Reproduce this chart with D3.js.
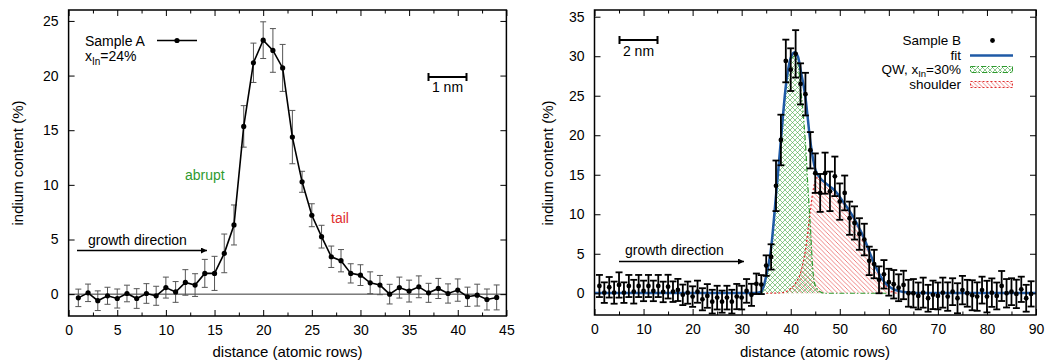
<!DOCTYPE html>
<html><head><meta charset="utf-8">
<script src="https://cdn.jsdelivr.net/npm/d3@7"></script>
<style>
body{margin:0;background:#fff}
svg{display:block}
text{font-family:"Liberation Sans",Arial,Helvetica,sans-serif;font-size:14px;fill:#000}
</style>
</head><body>
<svg id="c" width="1045" height="360"></svg>
<script>
// ---------- Data: Sample A ----------
const rowsA = d3.range(1, 45);
const valuesA = [-0.34,0.12,-0.6,-0.15,-0.4,0.06,-0.4,0.06,-0.15,0.6,0.2,1.07,0.83,1.9,1.9,3.73,6.33,15.35,21.17,23.24,22.3,20.7,14.37,10.28,7.22,5.26,3.42,3.06,1.9,1.74,1.04,0.83,0.0,0.6,0.28,0.67,0.12,0.52,0.06,0.37,-0.24,-0.09,-0.49,-0.3];
const errorsA = [0.8,0.8,0.9,0.78,0.87,0.76,0.9,0.9,0.87,0.96,0.95,1.17,1.04,1.28,1.56,1.77,1.83,1.9,1.8,1.68,2.0,2.15,2.44,0.96,1.05,1.04,0.98,1.02,0.88,0.95,1.0,0.88,0.9,0.96,1.0,1.0,0.87,0.92,0.88,1.02,0.88,1.0,0.96,1.14];

// ---------- Data: Sample B ----------
const rowsB = d3.range(1, 90);
const valuesB = [0.92,0.08,0.76,0.08,1.05,0.08,0.92,0.2,0.92,0.3,0.92,0.3,0.92,0.17,0.84,0.2,0.42,-0.2,0.08,-0.42,0.2,-0.76,-0.34,-1.06,-0.55,-1.06,-0.55,-1.06,-0.42,-0.55,0.3,-0.2,1.2,
 1.1,3.5,4.6,13.6,19.4,29.4,28.3,30.3,26.5,25.2,18.1,15.2,12.7,15.2,12.9,14.8,11.6,12.7,9.5,8.9,7.5,6.8,4.1,3.7,1.7,2.4,1.4,1.14,0.7,1.05,
 0,0,-0.34,0.08,-0.63,-0.2,-0.34,0.08,-0.42,0.2,-0.63,0.4,0,-0.25,-0.42,0.4,-0.42,0.08,-0.34,0.92,0,0.2,-0.08,0.5,-0.63,-0.08];
const errorsB = [1.4,1.3,1.3,1.4,1.6,1.3,1.4,1.5,1.4,1.3,1.4,1.3,1.4,1.3,1.5,1.3,1.4,1.3,1.4,1.3,1.4,1.4,1.5,1.5,1.5,1.4,1.5,1.5,1.6,1.5,1.5,1.4,1.3,
 1.2,1.3,1.6,3.2,3.2,2.7,2.7,3.0,2.6,2.7,2.3,2.5,2.4,2.6,2.5,2.5,2.3,2.2,2.1,2.1,2.0,2.0,1.8,1.8,1.7,1.8,1.7,1.8,1.7,1.8,
 1.7,1.8,1.7,1.9,1.7,1.8,1.7,1.9,1.8,1.7,1.9,1.8,1.7,1.9,1.8,1.7,2.0,1.8,1.7,1.9,1.8,1.7,1.8,1.6,1.7,1.6];

// fit curve
const fitX = [0,10,20,30,33,34,35,36,37,38,39,40,40.8,41.5,42,43,44,45,46,47,48,49,50,51,52,53,54,55,56,57,58,59,60,61,62,63,65,70,80,90];
const fitY = [0.05,0.05,0.05,0.05,0.05,0.2,2.2,5.7,12.4,19.4,26.2,29.8,30.5,29.9,28.3,24.8,19.2,15.7,14.6,14.0,13.5,13.0,12.2,11.3,10.4,9.4,8.2,6.9,5.3,3.8,2.5,1.5,0.9,0.5,0.3,0.15,0.05,0.05,0.05,0.05];
// QW component
const qwX = [33,34,35,36,37,38,39,40,40.8,41.5,42,42.5,43,43.5,44,44.5,45,46,47,50,55,60];
const qwY = [0,0.1,2.0,5.6,12.2,19.2,26.0,29.4,30.0,29.0,26.0,23.0,19.0,13.5,8.5,3.0,1.0,0.2,0,0,0,0];
// shoulder component
const shX = [35,38,39,40,41,42,43,44,44.5,45,45.5,46,47,48,49,50,51,52,53,54,55,56,57,58,59,60,61,62];
const shY = [0,0.05,0.2,0.6,1.3,2.6,5.5,10.5,12.8,14.2,14.7,14.6,14.0,13.5,13.0,12.2,11.3,10.4,9.4,8.2,6.9,5.3,3.8,2.4,1.3,0.5,0.1,0];

const ticksAx = [0,5,10,15,20,25,30,35,40,45];
const minorAx = [2.5,7.5,12.5,17.5,22.5,27.5,32.5,37.5,42.5];
const ticksAy = [0,5,10,15,20,25];
const ticksBx = [0,10,20,30,40,50,60,70,80,90];
const minorBx = [5,15,25,35,45,55,65,75,85];
const ticksBy = [0,5,10,15,20,25,30,35];

const svg = d3.select('#c');
const defs = svg.append('defs');
const GREEN = '#2f9a2f', RED = '#e03030', BLUE = '#1f5aa6';

// patterns
const pg = defs.append('pattern').attr('id','pgreen').attr('patternUnits','userSpaceOnUse').attr('width',5).attr('height',5);
pg.append('path').attr('d','M0,0L5,5M5,0L0,5').attr('stroke','#45a845').attr('stroke-width',0.6).attr('fill','none');
const pr = defs.append('pattern').attr('id','pred').attr('patternUnits','userSpaceOnUse').attr('width',4.5).attr('height',4.5);
pr.append('path').attr('d','M-1,-1L5.5,5.5M-1,3.5L1,5.5M3.5,-1L5.5,1').attr('stroke','#e85050').attr('stroke-width',0.7).attr('fill','none');
defs.append('marker').attr('id','arr').attr('viewBox','0 0 10 10').attr('refX',10).attr('refY',5)
  .attr('markerWidth',9).attr('markerHeight',6).attr('markerUnits','userSpaceOnUse').attr('orient','auto')
  .append('path').attr('d','M0,0L10,5L0,10z').attr('fill','#000');

function frame(g, x, y, xt, xm, yt) {
  const [x0,x1] = x.range(), [y0,y1] = y.range();
  const ax = (gen, tv, size, tf, tr) => {
    const a = gen.tickValues(tv).tickSize(size).tickPadding(tf ? 9 : 0);
    if (!tf) a.tickFormat('');
    const gg = g.append('g').attr('transform', tr).call(a);
    gg.select('.domain').remove();
    gg.selectAll('line').attr('stroke','#000').attr('stroke-width',1);
    gg.selectAll('text').style('font-size','14px').style('font-family','"Liberation Sans",Arial,sans-serif');
    return gg;
  };
  ax(d3.axisBottom(x), xt, -6, true, `translate(0,${y0})`);
  ax(d3.axisBottom(x), xm, -3.5, false, `translate(0,${y0})`);
  ax(d3.axisTop(x), xt, -6, false, `translate(0,${y1})`);
  ax(d3.axisTop(x), xm, -3.5, false, `translate(0,${y1})`);
  const yl = ax(d3.axisLeft(y), yt, -6, true, `translate(${x0},0)`);
  yl.selectAll('text').attr('x', -10);
  ax(d3.axisRight(y), yt, -6, false, `translate(${x1},0)`);
  g.append('rect').attr('x',x0).attr('y',y1).attr('width',x1-x0).attr('height',y0-y1)
    .attr('fill','none').attr('stroke','#000').attr('stroke-width',1.5);
}

// ================= Left chart =================
const xA = d3.scaleLinear().domain([0,45]).range([68.6,506.4]);
const yA = d3.scaleLinear().domain([-2,26]).range([316,10]);
const gA = svg.append('g');
gA.append('line').attr('x1',xA(0)).attr('x2',xA(45)).attr('y1',yA(0)).attr('y2',yA(0)).attr('stroke','#000').attr('stroke-width',0.8);
const dA = rowsA.map((r,i)=>({x:r,y:valuesA[i],e:errorsA[i]}));
const ebA = gA.append('g').attr('stroke','#555').attr('stroke-width',1);
dA.forEach(d=>{
  const px = xA(d.x), t = yA(d.y+d.e), b = yA(d.y-d.e);
  ebA.append('line').attr('x1',px).attr('x2',px).attr('y1',t).attr('y2',b);
  ebA.append('line').attr('x1',px-3).attr('x2',px+3).attr('y1',t).attr('y2',t);
  ebA.append('line').attr('x1',px-3).attr('x2',px+3).attr('y1',b).attr('y2',b);
});
gA.append('path').datum(dA).attr('d',d3.line().x(d=>xA(d.x)).y(d=>yA(d.y)))
  .attr('fill','none').attr('stroke','#000').attr('stroke-width',1.6);
gA.selectAll('circle.p').data(dA).join('circle').attr('cx',d=>xA(d.x)).attr('cy',d=>yA(d.y)).attr('r',2.6).attr('fill','#000');
frame(gA, xA, yA, ticksAx, minorAx, ticksAy);

// legend A
gA.append('text').attr('x',85).attr('y',46).text('Sample A');
gA.append('line').attr('x1',157).attr('x2',197).attr('y1',40.5).attr('y2',40.5).attr('stroke','#000').attr('stroke-width',1.6);
gA.append('circle').attr('cx',177).attr('cy',40.5).attr('r',2.6).attr('fill','#000');
const tA = gA.append('text').attr('x',85).attr('y',61);
tA.append('tspan').text('x');
tA.append('tspan').attr('dy',4).style('font-size','10px').text('In');
tA.append('tspan').attr('dy',-4).text('=24%');
// scale bar
gA.append('path').attr('d','M428.5,73V81M428.5,77H466.5M466.5,73V81').attr('stroke','#000').attr('stroke-width',2).attr('fill','none');
gA.append('text').attr('x',447.5).attr('y',92).attr('text-anchor','middle').text('1 nm');
// annotations
gA.append('text').attr('x',88).attr('y',245).text('growth direction');
gA.append('line').attr('x1',77).attr('x2',207).attr('y1',250.5).attr('y2',250.5).attr('stroke','#000').attr('stroke-width',1.5).attr('marker-end','url(#arr)');
gA.append('text').attr('x',185).attr('y',180).style('fill',GREEN).text('abrupt');
gA.append('text').attr('x',331).attr('y',223).style('fill',RED).text('tail');
// titles
gA.append('text').attr('transform','translate(23,163) rotate(-90)').attr('text-anchor','middle').style('font-size','15px').text('indium content (%)');
gA.append('text').attr('x',287.5).attr('y',357).attr('text-anchor','middle').style('font-size','15px').text('distance (atomic rows)');

// ================= Right chart =================
const xB = d3.scaleLinear().domain([0,90]).range([594.5,1036]);
const yB = d3.scaleLinear().domain([-2.75,35.85]).range([315,10]);
const gB = svg.append('g');
const sh = shX.map((x,i)=>({x,y:shY[i]}));
const qw = qwX.map((x,i)=>({x,y:qwY[i]}));
const fit = fitX.map((x,i)=>({x,y:fitY[i]}));
const area = d3.area().x(d=>xB(d.x)).y0(yB(0)).y1(d=>yB(d.y)).curve(d3.curveMonotoneX);
const ln = d3.line().x(d=>xB(d.x)).y(d=>yB(d.y)).curve(d3.curveMonotoneX);
gB.append('path').datum(sh).attr('d',area).attr('fill','url(#pred)');
gB.append('path').datum(qw).attr('d',area).attr('fill','url(#pgreen)');
gB.append('path').datum(sh).attr('d',ln).attr('fill','none').attr('stroke',RED).attr('stroke-width',1.2).attr('stroke-dasharray','2,2');
gB.append('path').datum(qw).attr('d',ln).attr('fill','none').attr('stroke',GREEN).attr('stroke-width',1.2).attr('stroke-dasharray','5,2,1.5,2');
gB.append('path').datum(fit).attr('d',ln).attr('fill','none').attr('stroke',BLUE).attr('stroke-width',2.5);
const dB = rowsB.map((r,i)=>({x:r,y:valuesB[i],e:errorsB[i]}));
const ebB = gB.append('g').attr('stroke','#000').attr('stroke-width',1.8);
dB.forEach(d=>{
  const px = xB(d.x), t = yB(d.y+d.e), b = yB(d.y-d.e);
  ebB.append('line').attr('x1',px).attr('x2',px).attr('y1',t).attr('y2',b);
  ebB.append('line').attr('x1',px-3.5).attr('x2',px+3.5).attr('y1',t).attr('y2',t);
  ebB.append('line').attr('x1',px-3.5).attr('x2',px+3.5).attr('y1',b).attr('y2',b);
});
gB.selectAll('circle.p').data(dB).join('circle').attr('cx',d=>xB(d.x)).attr('cy',d=>yB(d.y)).attr('r',2.4).attr('fill','#000');
frame(gB, xB, yB, ticksBx, minorBx, ticksBy);

// legend B
const lg = gB.append('g').style('font-size','13px');
lg.append('text').attr('x',961).attr('y',45).attr('text-anchor','end').style('font-size','13.5px').text('Sample B');
lg.append('circle').attr('cx',992.5).attr('cy',40.5).attr('r',2.4).attr('fill','#000');
lg.append('text').attr('x',961).attr('y',60).attr('text-anchor','end').style('font-size','13.5px').text('fit');
lg.append('line').attr('x1',970).attr('x2',1013).attr('y1',55.5).attr('y2',55.5).attr('stroke',BLUE).attr('stroke-width',2.5);
const tB = lg.append('text').attr('x',961).attr('y',74).attr('text-anchor','end').style('font-size','13.5px');
tB.append('tspan').text('QW, x');
tB.append('tspan').attr('dy',3).style('font-size','9.5px').text('In');
tB.append('tspan').attr('dy',-3).text('=30%');
lg.append('rect').attr('x',970.5).attr('y',66.5).attr('width',42).attr('height',6).attr('fill','url(#pgreen)').attr('stroke',GREEN).attr('stroke-width',1).attr('stroke-dasharray','5,2,1.5,2');
lg.append('text').attr('x',961).attr('y',89).attr('text-anchor','end').style('font-size','13.5px').text('shoulder');
lg.append('rect').attr('x',970.5).attr('y',81.5).attr('width',42).attr('height',6).attr('fill','url(#pred)').attr('stroke',RED).attr('stroke-width',1).attr('stroke-dasharray','2,2');
// scale bar
gB.append('path').attr('d','M619.5,36V44M619.5,40H657.5M657.5,36V44').attr('stroke','#000').attr('stroke-width',2).attr('fill','none');
gB.append('text').attr('x',638.5).attr('y',56).attr('text-anchor','middle').text('2 nm');
// annotations
gB.append('text').attr('x',625).attr('y',255).text('growth direction');
gB.append('line').attr('x1',619).attr('x2',744).attr('y1',261.5).attr('y2',261.5).attr('stroke','#000').attr('stroke-width',1.5).attr('marker-end','url(#arr)');
// titles
gB.append('text').attr('transform','translate(553,163) rotate(-90)').attr('text-anchor','middle').style('font-size','15px').text('indium content (%)');
gB.append('text').attr('x',815).attr('y',357).attr('text-anchor','middle').style('font-size','15px').text('distance (atomic rows)');
</script>
</body></html>
